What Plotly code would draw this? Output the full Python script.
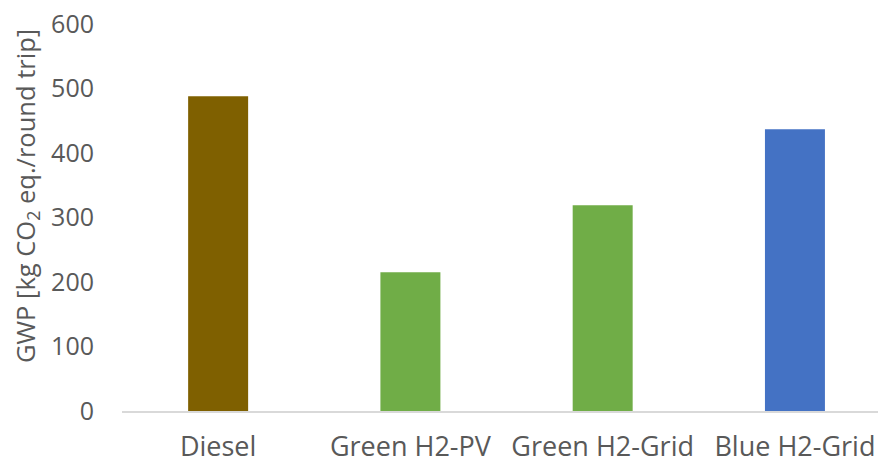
import plotly.graph_objects as go

# GWP per round trip by fuel pathway
categories = ["Diesel", "Green H2-PV", "Green H2-Grid", "Blue H2-Grid"]
gwp_values = [488, 215, 319, 437]
bar_colors = ["#7F6000", "#70AD47", "#70AD47", "#4472C4"]
y_ticks = [0, 100, 200, 300, 400, 500, 600]
y_title = "GWP [kg CO<sub>2</sub> eq./round trip]"

font_family = "Open Sans, Noto Sans, sans-serif"
text_color = "#595959"

fig = go.Figure(
    go.Bar(
        x=categories,
        y=gwp_values,
        marker=dict(color=bar_colors, line=dict(width=0)),
        width=0.312,
    )
)

fig.update_layout(
    width=878,
    height=463,
    margin=dict(l=122, r=0, t=24, b=52),
    plot_bgcolor="white",
    paper_bgcolor="white",
    showlegend=False,
    font=dict(family=font_family, color=text_color, size=21),
)

fig.update_xaxes(
    range=[-0.5, 3.432],
    showline=True,
    linecolor="#D9D9D9",
    linewidth=1.5,
    showgrid=False,
    ticks="",
    automargin=False,
    ticklabelstandoff=11,
    tickfont=dict(size=27, color=text_color),
)

fig.update_yaxes(
    range=[0, 600],
    tickvals=y_ticks,
    showgrid=False,
    zeroline=False,
    showline=False,
    ticks="",
    automargin=False,
    ticklabelstandoff=27,
    tickfont=dict(size=25, color=text_color),
)

# rotated axis title placed beside the tick labels
fig.add_annotation(
    text=y_title,
    textangle=-90,
    xref="paper",
    yref="paper",
    x=(26 - 122) / 756,
    y=(411 - 196) / 387,
    xanchor="center",
    yanchor="middle",
    showarrow=False,
    font=dict(size=25.5, color=text_color, family=font_family),
)

fig.write_html("out.html")
